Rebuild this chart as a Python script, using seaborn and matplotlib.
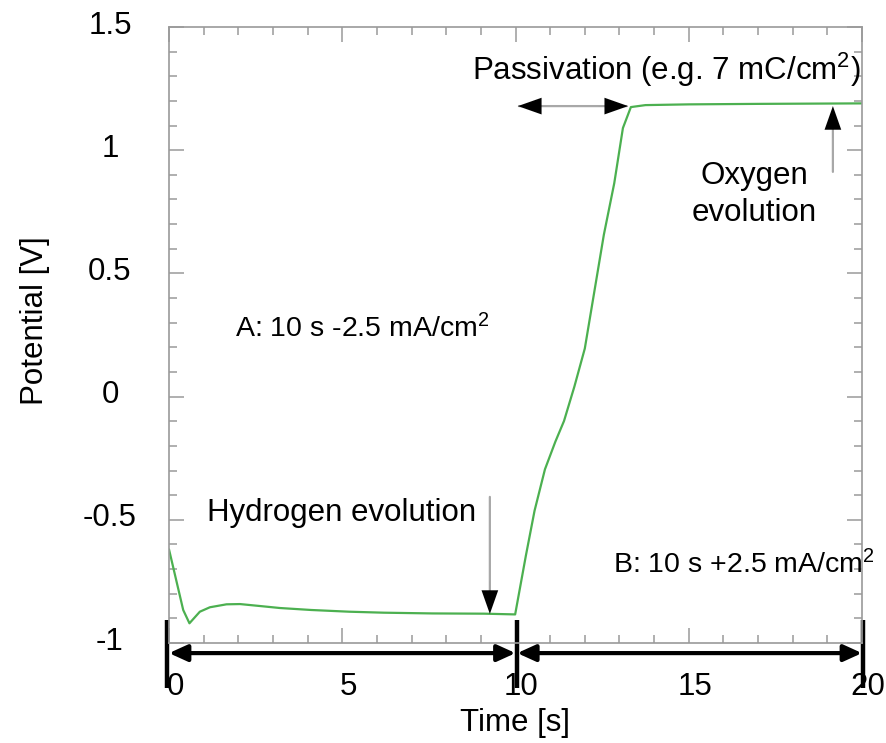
import matplotlib
matplotlib.use("Agg")
import matplotlib.pyplot as plt
from matplotlib.transforms import ScaledTranslation
import seaborn as sns
import pandas as pd

# ---- data ----
time_s = [0, 0.41, 0.59, 0.89, 1.18, 1.66, 2.05, 2.63, 3.2, 4.1, 5.2, 6.2, 7.6, 9.1,
          9.99, 10.3, 10.55, 10.85, 11.15, 11.4, 11.7, 12.0, 12.25, 12.55, 12.85,
          13.1, 13.33, 13.75, 15.0, 17.0, 20.0]
potential_v = [-0.62, -0.866, -0.92, -0.873, -0.855, -0.843, -0.842, -0.850, -0.858,
               -0.866, -0.873, -0.877, -0.880, -0.881, -0.884, -0.645, -0.463, -0.295,
               -0.183, -0.099, 0.041, 0.195, 0.405, 0.657, 0.866, 1.09, 1.175, 1.183,
               1.186, 1.188, 1.19]
x_major = [0, 5, 10, 15, 20]
y_major = [-1, -0.5, 0, 0.5, 1, 1.5]
y_labels = ["-1", "-0.5", "0", "0.5", "1", "1.5"]
x_labels = ["0", "5", "10", "15", "20"]

sns.set_theme(style="ticks")
plt.rcParams["font.family"] = ["Liberation Sans", "DejaVu Sans"]
plt.rcParams["text.color"] = "black"
plt.rcParams["axes.labelcolor"] = "black"
plt.rcParams["mathtext.fontset"] = "custom"
plt.rcParams["mathtext.rm"] = "Liberation Sans"
plt.rcParams["mathtext.it"] = "Liberation Sans"
plt.rcParams["mathtext.default"] = "regular"

fig = plt.figure(figsize=(8.87, 7.43), dpi=100)
ax = fig.add_axes([169 / 887, 100 / 743, 693 / 887, 616 / 743])

df = pd.DataFrame({"Time": time_s, "Potential": potential_v})
sns.lineplot(data=df, x="Time", y="Potential", ax=ax, color="#4cb050",
             linewidth=1.6, estimator=None)

ax.set_xlim(0, 20)
ax.set_ylim(-1, 1.5)
ax.set_xticks(x_major)
ax.set_xticklabels(x_labels)
ax.set_yticks(y_major)
ax.set_yticklabels(y_labels)
ax.set_xticks([i for i in range(21)], minor=True)
ax.set_yticks([round(-1 + 0.1 * i, 2) for i in range(26)], minor=True)

gray = "#9a9a9a"
for s in ax.spines.values():
    s.set_color(gray)
    s.set_linewidth(1.2)
    s.set_visible(True)
ax.tick_params(which="both", direction="in", top=True, right=True, color=gray,
               width=1.1, labelsize=22.5, labelcolor="black")
ax.tick_params(which="major", length=10.5)
ax.tick_params(which="minor", length=5.5)
ax.tick_params(axis="y", which="major", pad=42.5)
ax.tick_params(axis="x", which="major", pad=21)
for lbl in ax.get_yticklabels():
    lbl.set_horizontalalignment("center")
    lbl.set_transform(lbl.get_transform() + ScaledTranslation(0, 5 / 100, fig.dpi_scale_trans))
for lbl in ax.get_xticklabels():
    lbl.set_transform(lbl.get_transform() + ScaledTranslation(6 / 100, 0, fig.dpi_scale_trans))

ax.set_xlabel("Time [s]", fontsize=22.5, va="top", color="black")
ax.set_ylabel("Potential [V]", fontsize=22.5, va="center", color="black")
ax.xaxis.set_label_coords(0.5, -0.105)
ax.yaxis.set_label_coords(-0.193, 0.524)

# ---- annotation texts ----
ax.text(14.35, 1.285, "Passivation (e.g. 7 mC/cm$^{2}$)", fontsize=22.5, ha="center",
        va="baseline", clip_on=False)
ax.text(16.9, 0.822, "Oxygen\nevolution", fontsize=22.5, ha="center", va="center",
        multialignment="center", linespacing=1.3)
ax.text(1.9, 0.242, "A: 10 s -2.5 mA/cm$^{2}$", fontsize=20.5, ha="left", va="baseline")
ax.text(1.1, -0.505, "Hydrogen evolution", fontsize=22.5, ha="left", va="baseline")
ax.text(12.8, -0.716, "B: 10 s +2.5 mA/cm$^{2}$", fontsize=20.5, ha="left", va="baseline",
        clip_on=False)


def head(tip, tail, hl=0.85, hw=0.3):
    ax.annotate("", xy=tip, xytext=tail,
                arrowprops=dict(arrowstyle=f"-|>,head_length={hl},head_width={hw}",
                                color="black", lw=0.01, shrinkA=0, shrinkB=0,
                                mutation_scale=20))


def thin_line(p0, p1):
    ax.annotate("", xy=p1, xytext=p0,
                arrowprops=dict(arrowstyle="-", color="#a8a8a8", lw=1.6,
                                shrinkA=0, shrinkB=0))


# passivation double arrow
thin_line((10.1, 1.179), (13.2, 1.179))
head((10.07, 1.179), (10.9, 1.179))
head((13.25, 1.179), (12.4, 1.179))
# oxygen arrow
thin_line((19.16, 0.912), (19.16, 1.15))
head((19.16, 1.179), (19.16, 1.05))
# hydrogen arrow
thin_line((9.26, -0.407), (9.26, -0.85))
head((9.26, -0.882), (9.26, -0.75))

# bottom double arrows and bars (below the axes)
for a, b in [(0.0, 10.0), (10.05, 20.0)]:
    ax.annotate("", xy=(b, -1.041), xytext=(a, -1.041), annotation_clip=False,
                arrowprops=dict(arrowstyle="<|-|>,head_length=0.55,head_width=0.25",
                                color="black", lw=3, shrinkA=0, shrinkB=0,
                                mutation_scale=20))
for xb in [-0.06, 10.04, 20.03]:
    ax.plot([xb, xb], [-0.907, -1.183], color="black", lw=3.2, clip_on=False,
            solid_capstyle="butt")

fig.savefig("out.png", dpi=100)
